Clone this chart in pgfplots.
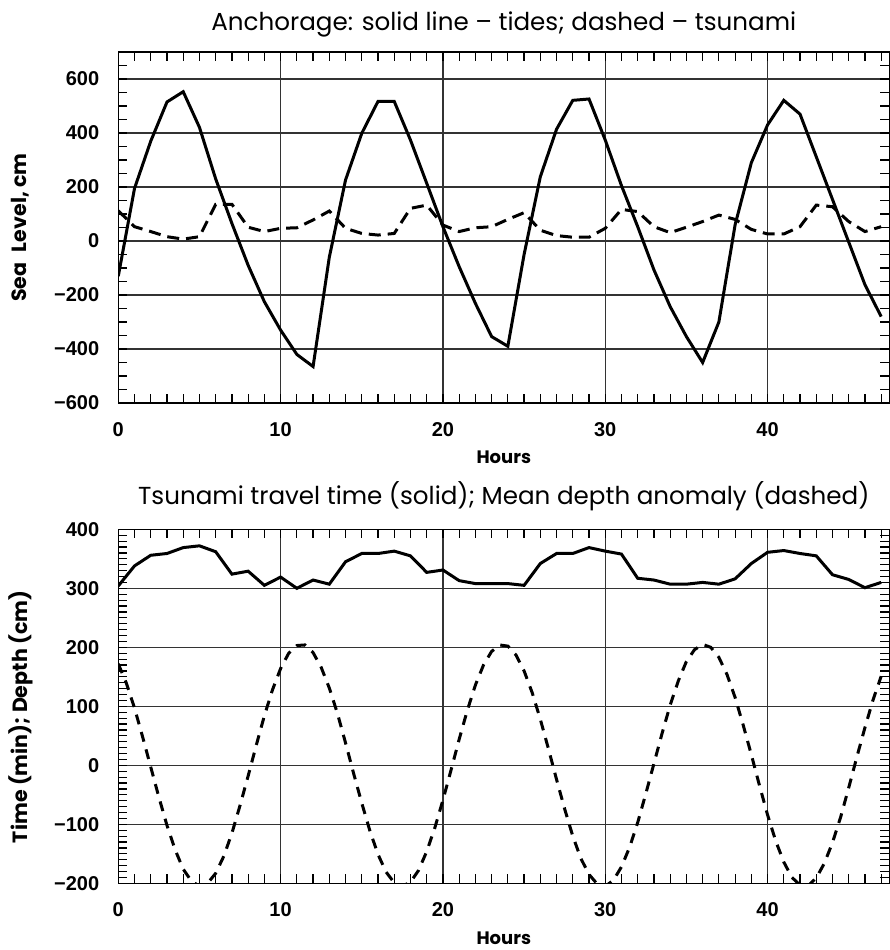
\documentclass[border=0pt]{standalone}
\usepackage{fontspec}
\setmainfont{Poppins}
\newfontfamily\tickfont{Liberation Sans}
\usepackage{pgfplots}
\usepackage{pgfplotstable}
\pgfplotsset{compat=1.18}

% Anchorage: hourly tide and tsunami sea level (cm)
\pgfplotstableread{
h  tide  tsunami
0  -130  112
1   195   53
2   370   35
3   515   16
4   553    7
5   421   16
6   230  136
7    65  136
8   -90   51
9  -225   35
10 -330   47
11 -420   49
12 -465   78
13  -60  111
14  226   47
15  399   28
16  517   22
17  517   28
18  374  121
19  214  133
20   53   59
21  -95   35
22 -231   49
23 -354   53
24 -390   80
25  -50  105
26  238   40
27  414   20
28  521   14
29  526   14
30  374   47
31  205  117
32   53  109
33 -107   53
34 -243   31
35 -354   51
36 -450   72
37 -300   96
38   60   80
39  290   43
40  430   26
41  521   26
42  470   53
43  312  133
44  154  127
45   -4   72
46 -162   35
47 -280   53
}\anchorage

% Tsunami travel time (min), hourly
\pgfplotstableread{
h  travel
0  304
1  338
2  356
3  359
4  369
5  372
6  362
7  324
8  329
9  305
10 319
11 300
12 314
13 307
14 345
15 359
16 359
17 363
18 355
19 327
20 331
21 313
22 308
23 308
24 308
25 305
26 342
27 359
28 359
29 369
30 363
31 358
32 317
33 314
34 307
35 307
36 310
37 307
38 316
39 342
40 361
41 364
42 359
43 355
44 323
45 315
46 301
47 310
}\travel

% Mean depth anomaly (cm), half-hourly
\pgfplotstableread{
h     depth
0.0   172
0.5   139
1.0    97
1.5    48
2.0    -3
2.5   -54
3.0  -102
3.5  -143
4.0  -176
4.5  -196
5.0  -205
5.5  -200
6.0  -183
6.5  -154
7.0  -115
7.5   -68
8.0   -18
8.5    34
9.0    84
9.5   128
10.0  164
10.5  190
11.0  203
11.5  204
12.0  191
12.5  166
13.0  131
13.5   88
14.0   38
14.5  -14
15.0  -64
15.5 -111
16.0 -151
16.5 -181
17.0 -199
17.5 -205
18.0 -198
18.5 -178
19.0 -146
19.5 -106
20.0  -59
20.5   -8
21.0   44
21.5   93
22.0  136
22.5  170
23.0  193
23.5  204
24.0  202
24.5  187
25.0  160
25.5  123
26.0   78
26.5   28
27.0  -24
27.5  -74
28.0 -120
28.5 -158
29.0 -185
29.5 -201
30.0 -205
30.5 -195
31.0 -172
31.5 -139
32.0  -97
32.5  -48
33.0    3
33.5   54
34.0  102
34.5  143
35.0  176
35.5  196
36.0  205
36.5  200
37.0  183
37.5  154
38.0  115
38.5   68
39.0   18
39.5  -34
40.0  -84
40.5 -128
41.0 -164
41.5 -190
42.0 -203
42.5 -204
43.0 -191
43.5 -166
44.0 -131
44.5  -88
45.0  -38
45.5   14
46.0   64
46.5  111
47.0  151
}\depth

\pgfplotsset{
  hourly/.style={
    scale only axis, width=385.5pt,
    xmin=0, xmax=47.5,
    xtick={0,10,20,30,40},
    xticklabels={0,10,20,30,40},
    minor xtick={0,1,...,47},
    grid=major,
    major grid style={black!80, line width=0.7pt},
    axis line style={black, line width=0.7pt},
    major tick length=0pt,
    minor tick length=4.5pt,
    tick style={black, line width=0.6pt},
    tick label style={font=\tickfont\bfseries\fontsize{10}{12}\selectfont},
    xticklabel style={anchor=base, yshift=-16.5pt},
    yticklabel style={anchor=east, xshift=-6pt},
    xlabel={Hours},
    xlabel style={at={(axis description cs:0.5,0)}, anchor=base, yshift=-30.5pt,
      font=\bfseries\fontsize{9}{11}\selectfont},
    ylabel style={at={(axis description cs:-0.127,0.5)}, anchor=center,
      font=\bfseries\fontsize{10.3}{12}\selectfont},
    title style={at={(axis description cs:0.5,1)}, anchor=base,
      font=\fontsize{12.3}{14}\selectfont},
  },
}

\begin{document}
\begin{tikzpicture}
\useasboundingbox (0,0) rectangle (445pt,475pt);

\begin{axis}[hourly,
  at={(59.15pt,273.5pt)}, anchor=south west, height=175.5pt,
  ymin=-600, ymax=700,
  ytick={-600,-400,-200,0,200,400,600},
  yticklabels={−600,−400,−200,0,200,400,600},
  minor ytick={-600,-550,...,700},
  title={Anchorage: solid line – tides; dashed – tsunami},
  title style={yshift=5pt},
  ylabel={Sea\enspace Level, cm},
]
\addplot[black, line width=1.5pt] table[x=h, y=tide] {\anchorage};
\addplot[black, line width=1.5pt, dash pattern=on 6pt off 3.5pt] table[x=h, y=tsunami] {\anchorage};
\end{axis}

\begin{axis}[hourly,
  at={(59.15pt,33.35pt)}, anchor=south west, height=177pt,
  ymin=-200, ymax=400,
  ytick={-200,-100,0,100,200,300,400},
  yticklabels={−200,−100,0,100,200,300,400},
  minor ytick={-200,-190,...,400},
  title={Tsunami travel time (solid); Mean depth anomaly (dashed)},
  title style={yshift=6.5pt},
  ylabel={Time (min); Depth (cm)},
  ylabel style={at={(axis description cs:-0.127,0.47)}},
]
\addplot[black, line width=1.5pt] table[x=h, y=travel] {\travel};
\addplot[black, line width=1.5pt, dash pattern=on 5pt off 4pt] table[x=h, y=depth] {\depth};
\end{axis}
\end{tikzpicture}
\end{document}
